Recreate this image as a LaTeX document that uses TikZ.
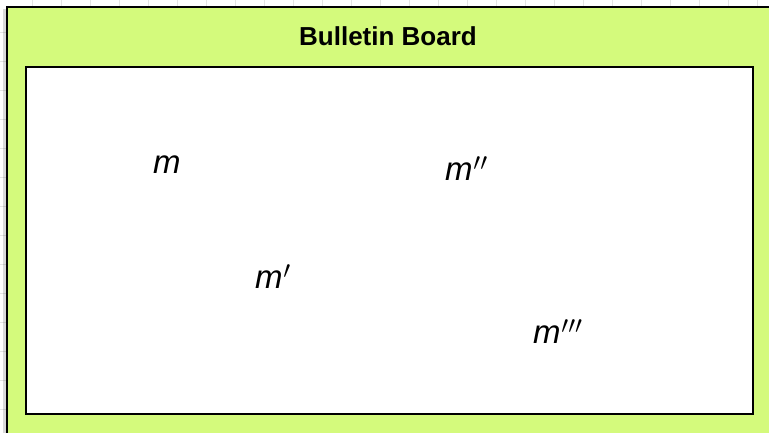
\documentclass[tikz,border=0pt]{standalone}
\usepackage{fontspec}
\setmainfont{Liberation Sans}
\definecolor{boardgreen}{HTML}{D4FA7C}
\definecolor{gridgray}{HTML}{E4E4E4}
\newcommand\mvar[1]{{\fontsize{33}{33}\selectfont\itshape m\kern1pt$^{#1}$}}
\begin{document}
\begin{tikzpicture}[x=1pt,y=-1pt,
  frame/.style={draw=black,line width=2.4pt},
  var/.style={anchor=base west,inner sep=0pt,outer sep=0pt}]
\useasboundingbox (0,0) rectangle (769,432);
\fill[white] (0,0) rectangle (769,432);
\foreach \x in {32,61,90,119,148,177,206,235,264,293,322,351,380,409,438,467,496,525,554,583,612,641,670,699,728,757}
  \draw[gridgray,line width=0.8pt] (\x,0) -- (\x,7);
\foreach \y in {32,61,90,119,148,177,206,235,264,293,322,351,380,409}
  \draw[gridgray,line width=0.8pt] (0,\y) -- (7,\y);
\fill[black,opacity=0.15] (3,9) rectangle (775,440);
\fill[boardgreen] (7,7) rectangle (775,440);
\draw[frame] (7,7) rectangle (775,440);
\node[anchor=base,inner sep=0pt,font=\fontsize{26}{26}\selectfont\bfseries] (title) at (388,45) {Bulletin Board};
\draw[frame,fill=white] (26,67) rectangle (753,414);
\node[var] (m0) at (153,173) {\mvar{}};
\node[var] (m2) at (445,180) {\mvar{\prime\prime}};
\node[var] (m1) at (255,288) {\mvar{\prime}};
\node[var] (m3) at (533,343) {\mvar{\prime\prime\prime}};
\end{tikzpicture}
\end{document}
